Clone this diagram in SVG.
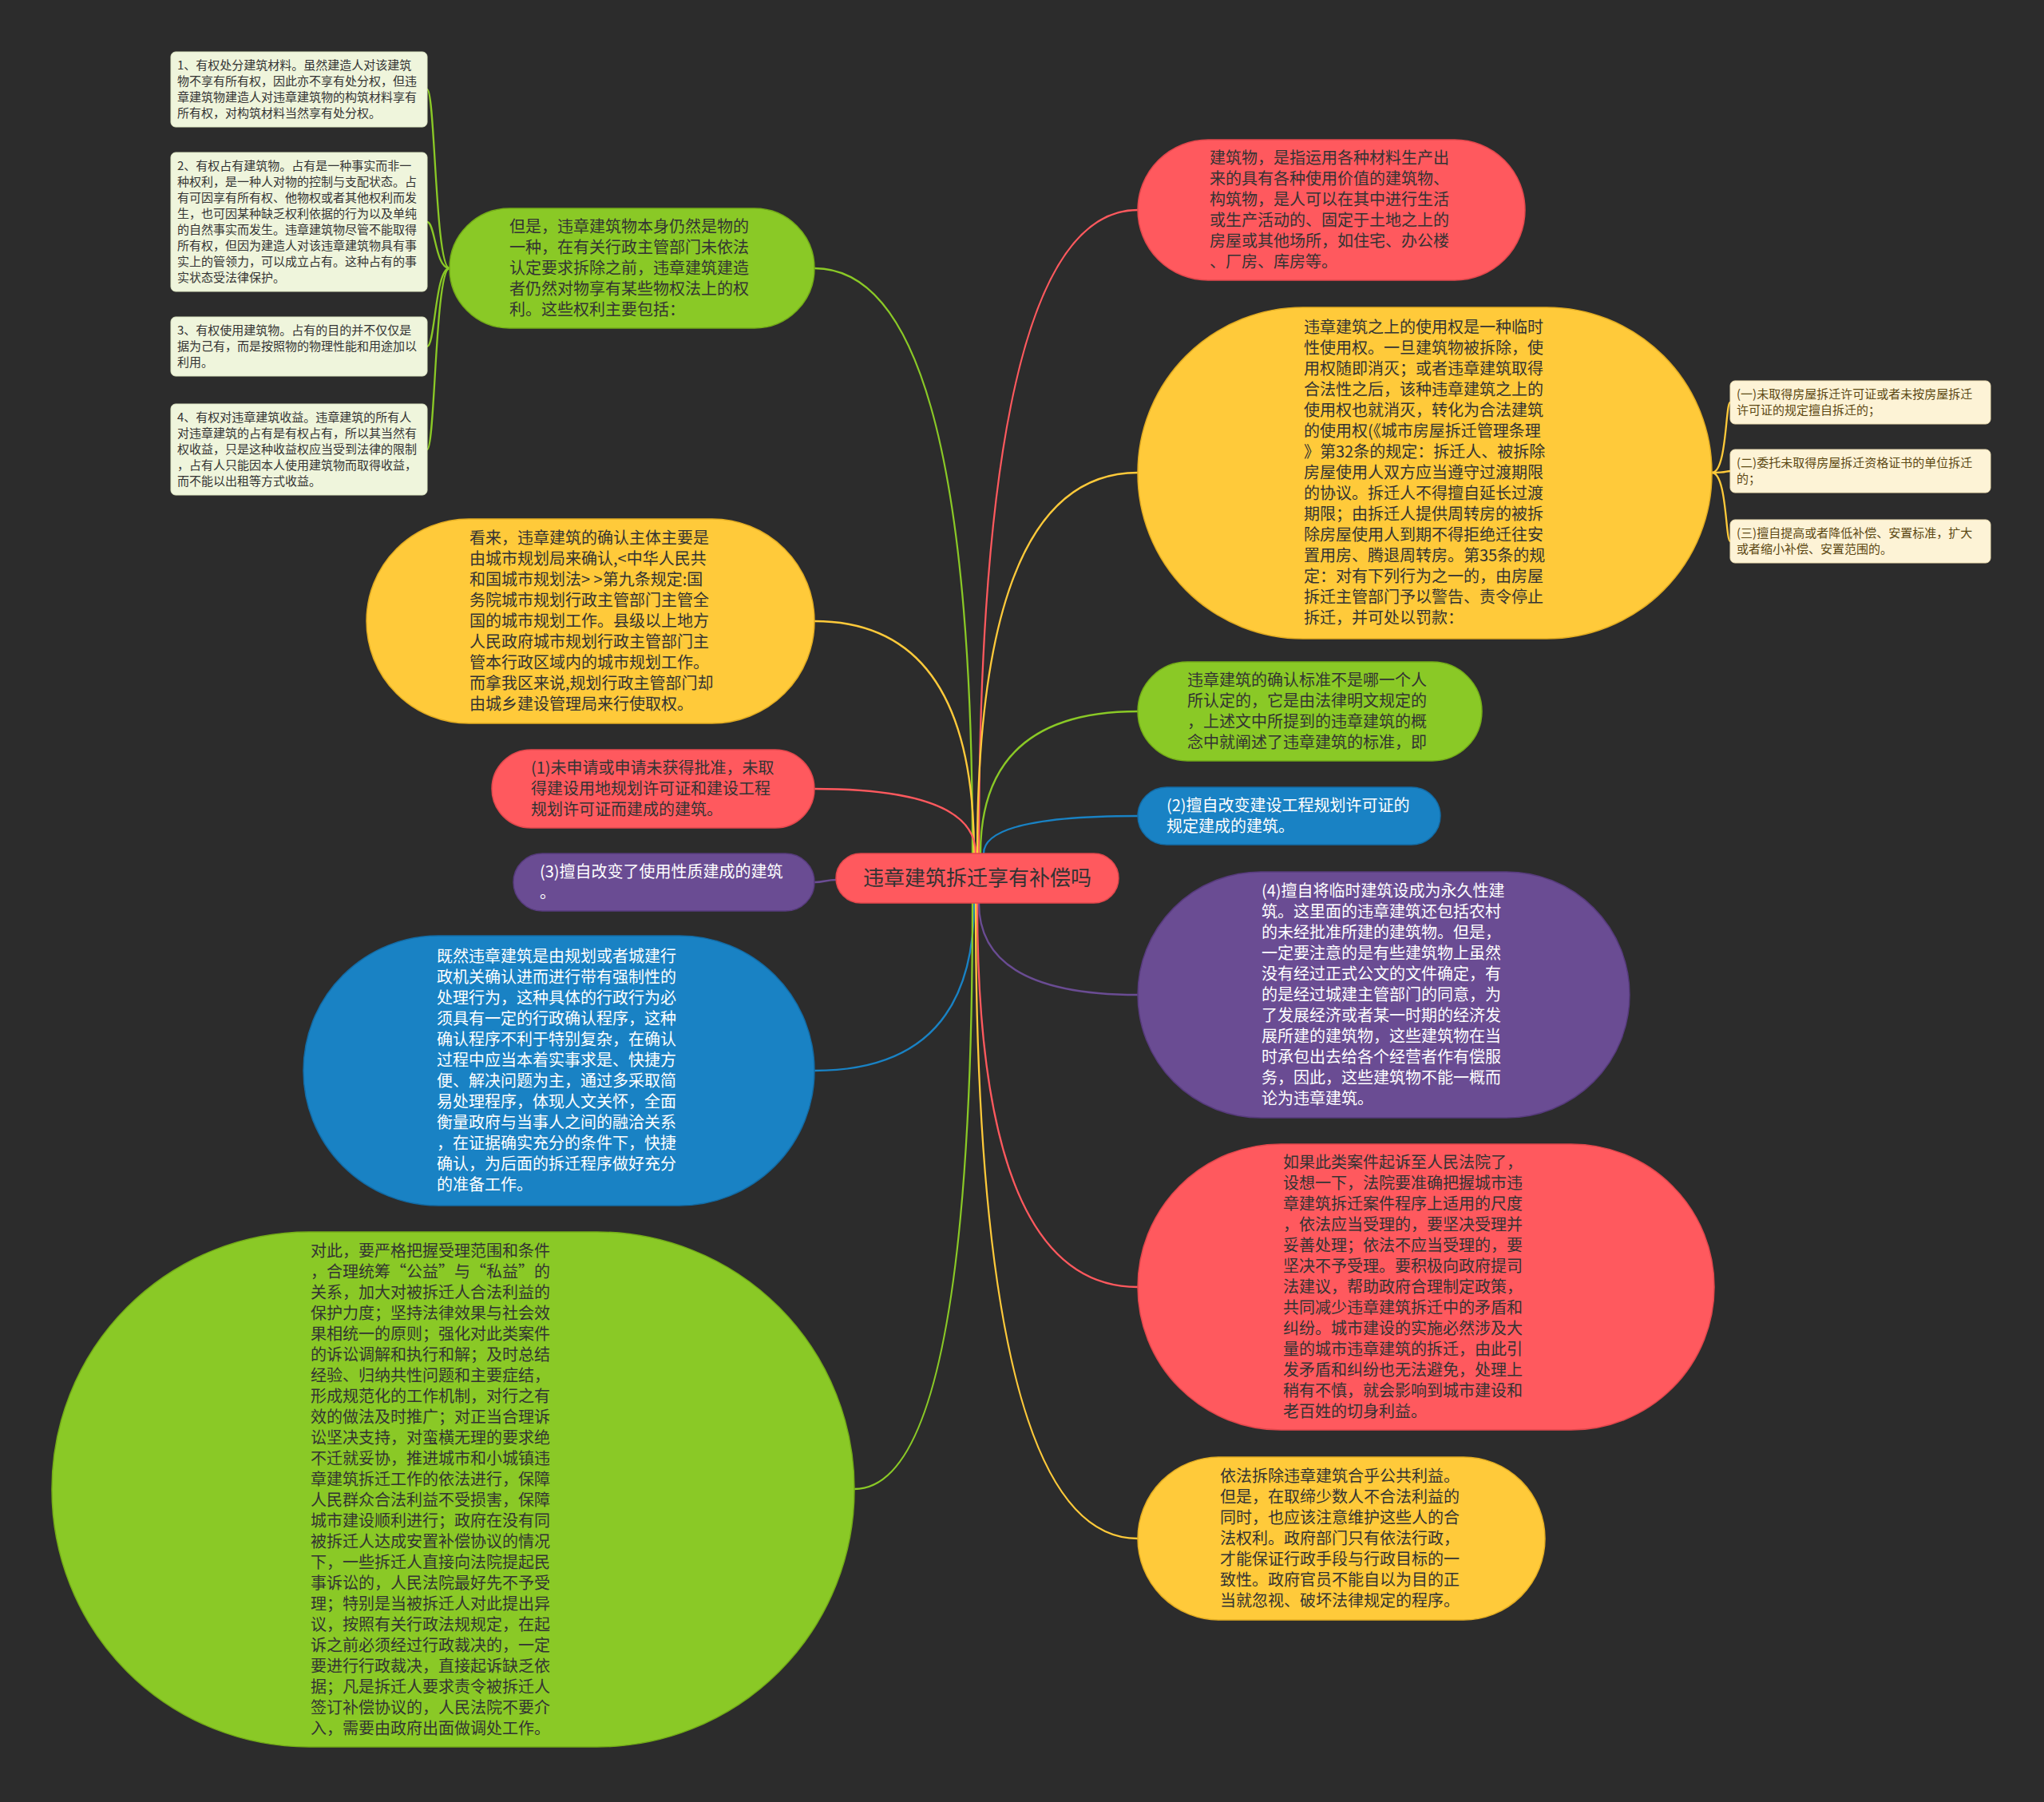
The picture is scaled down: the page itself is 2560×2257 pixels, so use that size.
<svg xmlns="http://www.w3.org/2000/svg" width="2560" height="2257" viewBox="0 0 2560 2257">
<style>
text{font-family:"Noto Sans CJK SC","Noto Sans",sans-serif;}
.t20{font-size:20px;}
.t15{font-size:15px;}
.dk{fill:#333333;}
.wh{fill:#ffffff;}
.br{fill:#5c4813;}
.red{fill:#ff595e;stroke:#e2474c;stroke-width:1.5;}
.yel{fill:#ffca3a;stroke:#e3ad22;stroke-width:1.5;}
.grn{fill:#8ac926;stroke:#74ad18;stroke-width:1.5;}
.blu{fill:#1982c4;stroke:#136ca6;stroke-width:1.5;}
.pur{fill:#6a4c93;stroke:#573b7d;stroke-width:1.5;}
.noteg{fill:#eff5dc;stroke:#dfe8c4;stroke-width:1;}
.notey{fill:#fdf3d6;stroke:#efe0b4;stroke-width:1;}
.c{fill:none;stroke-width:2.3;}
</style>
<rect x="0" y="0" width="2560" height="2257" fill="#2c2c2c"/>

<g id="connectors">
  <path class="c" stroke="#8ac926" d="M1218 1069 Q1218 336 1020 336"/>
  <path class="c" stroke="#ffca3a" d="M1220 1069 Q1220 778 1020 778"/>
  <path class="c" stroke="#ff595e" d="M1222 1069 Q1222 988 1020 988"/>
  <path class="c" stroke="#6a4c93" d="M1047 1102 C1035 1102 1032 1105 1020 1105"/>
  <path class="c" stroke="#1982c4" d="M1220 1131 Q1220 1341 1020 1341"/>
  <path class="c" stroke="#8ac926" d="M1218 1131 Q1218 1865 1070 1865"/>
  <path class="c" stroke="#ff595e" d="M1226 1069 Q1226 263 1425 263"/>
  <path class="c" stroke="#ffca3a" d="M1224 1069 Q1224 592 1425 592"/>
  <path class="c" stroke="#8ac926" d="M1228 1069 Q1228 891 1425 891"/>
  <path class="c" stroke="#1982c4" d="M1232 1069 Q1232 1022 1425 1022"/>
  <path class="c" stroke="#6a4c93" d="M1226 1131 Q1226 1246 1425 1246"/>
  <path class="c" stroke="#ff595e" d="M1224 1131 Q1224 1612 1425 1612"/>
  <path class="c" stroke="#ffca3a" d="M1222 1131 Q1222 1927 1425 1927"/>
  <path class="c" stroke="#8ac926" stroke-width="2" d="M563 336 C545 336 545 112 535 112"/>
  <path class="c" stroke="#8ac926" stroke-width="2" d="M563 336 C545 336 545 278 535 278"/>
  <path class="c" stroke="#8ac926" stroke-width="2" d="M563 336 C545 336 545 434 535 434"/>
  <path class="c" stroke="#8ac926" stroke-width="2" d="M563 336 C545 336 545 563 535 563"/>
  <path class="c" stroke="#ffca3a" stroke-width="2" d="M2144 592 C2163 592 2161 504 2167 504"/>
  <path class="c" stroke="#ffca3a" stroke-width="2" d="M2144 592 C2163 592 2161 590 2167 590"/>
  <path class="c" stroke="#ffca3a" stroke-width="2" d="M2144 592 C2163 592 2161 678 2167 678"/>
</g>

<g id="root">
  <rect class="red" x="1047" y="1069" width="354" height="62" rx="31"/>
  <text x="1224" y="1109" font-size="26" text-anchor="middle" class="dk">违章建筑拆迁享有补偿吗</text>
</g>

<g id="node-green-tl">
  <rect class="grn" x="563" y="261" width="457" height="150" rx="75"/>
  <text class="t20 dk">
    <tspan x="638" y="291">但是，违章建筑物本身仍然是物的</tspan>
    <tspan x="638" y="317">一种，在有关行政主管部门未依法</tspan>
    <tspan x="638" y="343">认定要求拆除之前，违章建筑建造</tspan>
    <tspan x="638" y="369">者仍然对物享有某些物权法上的权</tspan>
    <tspan x="638" y="395">利。这些权利主要包括：</tspan>
  </text>
</g>

<g id="note-1">
  <rect class="noteg" x="214" y="65" width="321" height="94" rx="6"/>
  <text class="t15 dk">
    <tspan x="222" y="87">1、有权处分建筑材料。虽然建造人对该建筑</tspan>
    <tspan x="222" y="107">物不享有所有权，因此亦不享有处分权，但违</tspan>
    <tspan x="222" y="127">章建筑物建造人对违章建筑物的构筑材料享有</tspan>
    <tspan x="222" y="147">所有权，对构筑材料当然享有处分权。</tspan>
  </text>
</g>

<g id="note-2">
  <rect class="noteg" x="214" y="191" width="321" height="174" rx="6"/>
  <text class="t15 dk">
    <tspan x="222" y="213">2、有权占有建筑物。占有是一种事实而非一</tspan>
    <tspan x="222" y="233">种权利，是一种人对物的控制与支配状态。占</tspan>
    <tspan x="222" y="253">有可因享有所有权、他物权或者其他权利而发</tspan>
    <tspan x="222" y="273">生，也可因某种缺乏权利依据的行为以及单纯</tspan>
    <tspan x="222" y="293">的自然事实而发生。违章建筑物尽管不能取得</tspan>
    <tspan x="222" y="313">所有权，但因为建造人对该违章建筑物具有事</tspan>
    <tspan x="222" y="333">实上的管领力，可以成立占有。这种占有的事</tspan>
    <tspan x="222" y="353">实状态受法律保护。</tspan>
  </text>
</g>

<g id="note-3">
  <rect class="noteg" x="214" y="397" width="321" height="74" rx="6"/>
  <text class="t15 dk">
    <tspan x="222" y="419">3、有权使用建筑物。占有的目的并不仅仅是</tspan>
    <tspan x="222" y="439">据为己有，而是按照物的物理性能和用途加以</tspan>
    <tspan x="222" y="459">利用。</tspan>
  </text>
</g>

<g id="note-4">
  <rect class="noteg" x="214" y="506" width="321" height="114" rx="6"/>
  <text class="t15 dk">
    <tspan x="222" y="528">4、有权对违章建筑收益。违章建筑的所有人</tspan>
    <tspan x="222" y="548">对违章建筑的占有是有权占有，所以其当然有</tspan>
    <tspan x="222" y="568">权收益，只是这种收益权应当受到法律的限制</tspan>
    <tspan x="222" y="588">，占有人只能因本人使用建筑物而取得收益，</tspan>
    <tspan x="222" y="608">而不能以出租等方式收益。</tspan>
  </text>
</g>

<g id="node-yellow-l">
  <rect class="yel" x="459" y="650" width="561" height="256" rx="128"/>
  <text class="t20 dk">
    <tspan x="588" y="681">看来，违章建筑的确认主体主要是</tspan>
    <tspan x="588" y="707">由城市规划局来确认,&lt;中华人民共</tspan>
    <tspan x="588" y="733">和国城市规划法&gt; &gt;第九条规定:国</tspan>
    <tspan x="588" y="759">务院城市规划行政主管部门主管全</tspan>
    <tspan x="588" y="785">国的城市规划工作。县级以上地方</tspan>
    <tspan x="588" y="811">人民政府城市规划行政主管部门主</tspan>
    <tspan x="588" y="837">管本行政区域内的城市规划工作。</tspan>
    <tspan x="588" y="863">而拿我区来说,规划行政主管部门却</tspan>
    <tspan x="588" y="889">由城乡建设管理局来行使取权。</tspan>
  </text>
</g>

<g id="node-red-1">
  <rect class="red" x="616" y="939" width="404" height="98" rx="49"/>
  <text class="t20 dk">
    <tspan x="665" y="969">(1)未申请或申请未获得批准，未取</tspan>
    <tspan x="665" y="995">得建设用地规划许可证和建设工程</tspan>
    <tspan x="665" y="1021">规划许可证而建成的建筑。</tspan>
  </text>
</g>

<g id="node-purple-3">
  <rect class="pur" x="643" y="1069" width="377" height="72" rx="36"/>
  <text class="t20 wh">
    <tspan x="676" y="1099">(3)擅自改变了使用性质建成的建筑</tspan>
    <tspan x="676" y="1125">。</tspan>
  </text>
</g>

<g id="node-blue-l">
  <rect class="blu" x="380" y="1172" width="640" height="338" rx="169"/>
  <text class="t20 wh">
    <tspan x="547" y="1205">既然违章建筑是由规划或者城建行</tspan>
    <tspan x="547" y="1231">政机关确认进而进行带有强制性的</tspan>
    <tspan x="547" y="1257">处理行为，这种具体的行政行为必</tspan>
    <tspan x="547" y="1283">须具有一定的行政确认程序，这种</tspan>
    <tspan x="547" y="1309">确认程序不利于特别复杂，在确认</tspan>
    <tspan x="547" y="1335">过程中应当本着实事求是、快捷方</tspan>
    <tspan x="547" y="1361">便、解决问题为主，通过多采取简</tspan>
    <tspan x="547" y="1387">易处理程序，体现人文关怀，全面</tspan>
    <tspan x="547" y="1413">衡量政府与当事人之间的融洽关系</tspan>
    <tspan x="547" y="1439">，在证据确实充分的条件下，快捷</tspan>
    <tspan x="547" y="1465">确认，为后面的拆迁程序做好充分</tspan>
    <tspan x="547" y="1491">的准备工作。</tspan>
  </text>
</g>

<g id="node-green-big">
  <rect class="grn" x="65" y="1543" width="1005" height="645" rx="322"/>
  <text class="t20 dk">
    <tspan x="389" y="1574">对此，要严格把握受理范围和条件</tspan>
    <tspan x="389" y="1600">，合理统筹“公益”与“私益”的</tspan>
    <tspan x="389" y="1626">关系，加大对被拆迁人合法利益的</tspan>
    <tspan x="389" y="1652">保护力度；坚持法律效果与社会效</tspan>
    <tspan x="389" y="1678">果相统一的原则；强化对此类案件</tspan>
    <tspan x="389" y="1704">的诉讼调解和执行和解；及时总结</tspan>
    <tspan x="389" y="1730">经验、归纳共性问题和主要症结，</tspan>
    <tspan x="389" y="1756">形成规范化的工作机制，对行之有</tspan>
    <tspan x="389" y="1782">效的做法及时推广；对正当合理诉</tspan>
    <tspan x="389" y="1808">讼坚决支持，对蛮横无理的要求绝</tspan>
    <tspan x="389" y="1834">不迁就妥协，推进城市和小城镇违</tspan>
    <tspan x="389" y="1860">章建筑拆迁工作的依法进行，保障</tspan>
    <tspan x="389" y="1886">人民群众合法利益不受损害，保障</tspan>
    <tspan x="389" y="1912">城市建设顺利进行；政府在没有同</tspan>
    <tspan x="389" y="1938">被拆迁人达成安置补偿协议的情况</tspan>
    <tspan x="389" y="1964">下，一些拆迁人直接向法院提起民</tspan>
    <tspan x="389" y="1990">事诉讼的，人民法院最好先不予受</tspan>
    <tspan x="389" y="2016">理；特别是当被拆迁人对此提出异</tspan>
    <tspan x="389" y="2042">议，按照有关行政法规规定，在起</tspan>
    <tspan x="389" y="2068">诉之前必须经过行政裁决的，一定</tspan>
    <tspan x="389" y="2094">要进行行政裁决，直接起诉缺乏依</tspan>
    <tspan x="389" y="2120">据；凡是拆迁人要求责令被拆迁人</tspan>
    <tspan x="389" y="2146">签订补偿协议的，人民法院不要介</tspan>
    <tspan x="389" y="2172">入，需要由政府出面做调处工作。</tspan>
  </text>
</g>

<g id="node-red-tr">
  <rect class="red" x="1425" y="175" width="485" height="176" rx="88"/>
  <text class="t20 dk">
    <tspan x="1515" y="205">建筑物，是指运用各种材料生产出</tspan>
    <tspan x="1515" y="231">来的具有各种使用价值的建筑物、</tspan>
    <tspan x="1515" y="257">构筑物，是人可以在其中进行生活</tspan>
    <tspan x="1515" y="283">或生产活动的、固定于土地之上的</tspan>
    <tspan x="1515" y="309">房屋或其他场所，如住宅、办公楼</tspan>
    <tspan x="1515" y="335">、厂房、库房等。</tspan>
  </text>
</g>

<g id="node-yellow-r">
  <rect class="yel" x="1425" y="385" width="719" height="415" rx="207"/>
  <text class="t20 dk">
    <tspan x="1633" y="417">违章建筑之上的使用权是一种临时</tspan>
    <tspan x="1633" y="443">性使用权。一旦建筑物被拆除，使</tspan>
    <tspan x="1633" y="469">用权随即消灭；或者违章建筑取得</tspan>
    <tspan x="1633" y="495">合法性之后，该种违章建筑之上的</tspan>
    <tspan x="1633" y="521">使用权也就消灭，转化为合法建筑</tspan>
    <tspan x="1633" y="547">的使用权(《城市房屋拆迁管理条理</tspan>
    <tspan x="1633" y="573">》第32条的规定：拆迁人、被拆除</tspan>
    <tspan x="1633" y="599">房屋使用人双方应当遵守过渡期限</tspan>
    <tspan x="1633" y="625">的协议。拆迁人不得擅自延长过渡</tspan>
    <tspan x="1633" y="651">期限；由拆迁人提供周转房的被拆</tspan>
    <tspan x="1633" y="677">除房屋使用人到期不得拒绝迁往安</tspan>
    <tspan x="1633" y="703">置用房、腾退周转房。第35条的规</tspan>
    <tspan x="1633" y="729">定：对有下列行为之一的，由房屋</tspan>
    <tspan x="1633" y="755">拆迁主管部门予以警告、责令停止</tspan>
    <tspan x="1633" y="781">拆迁，并可处以罚款：</tspan>
  </text>
</g>

<g id="note-a">
  <rect class="notey" x="2167" y="477" width="326" height="54" rx="6"/>
  <text class="t15 br">
    <tspan x="2175" y="499">(一)未取得房屋拆迁许可证或者未按房屋拆迁</tspan>
    <tspan x="2175" y="519">许可证的规定擅自拆迁的；</tspan>
  </text>
</g>

<g id="note-b">
  <rect class="notey" x="2167" y="563" width="326" height="54" rx="6"/>
  <text class="t15 br">
    <tspan x="2175" y="585">(二)委托未取得房屋拆迁资格证书的单位拆迁</tspan>
    <tspan x="2175" y="605">的；</tspan>
  </text>
</g>

<g id="note-c">
  <rect class="notey" x="2167" y="651" width="326" height="54" rx="6"/>
  <text class="t15 br">
    <tspan x="2175" y="673">(三)擅自提高或者降低补偿、安置标准，扩大</tspan>
    <tspan x="2175" y="693">或者缩小补偿、安置范围的。</tspan>
  </text>
</g>

<g id="node-green-r">
  <rect class="grn" x="1425" y="829" width="431" height="124" rx="62"/>
  <text class="t20 dk">
    <tspan x="1487" y="859">违章建筑的确认标准不是哪一个人</tspan>
    <tspan x="1487" y="885">所认定的，它是由法律明文规定的</tspan>
    <tspan x="1487" y="911">，上述文中所提到的违章建筑的概</tspan>
    <tspan x="1487" y="937">念中就阐述了违章建筑的标准，即</tspan>
  </text>
</g>

<g id="node-blue-2">
  <rect class="blu" x="1425" y="986" width="379" height="72" rx="36"/>
  <text class="t20 wh">
    <tspan x="1461" y="1016">(2)擅自改变建设工程规划许可证的</tspan>
    <tspan x="1461" y="1042">规定建成的建筑。</tspan>
  </text>
</g>

<g id="node-purple-4">
  <rect class="pur" x="1425" y="1092" width="616" height="308" rx="154"/>
  <text class="t20 wh">
    <tspan x="1580" y="1123">(4)擅自将临时建筑设成为永久性建</tspan>
    <tspan x="1580" y="1149">筑。这里面的违章建筑还包括农村</tspan>
    <tspan x="1580" y="1175">的未经批准所建的建筑物。但是，</tspan>
    <tspan x="1580" y="1201">一定要注意的是有些建筑物上虽然</tspan>
    <tspan x="1580" y="1227">没有经过正式公文的文件确定，有</tspan>
    <tspan x="1580" y="1253">的是经过城建主管部门的同意，为</tspan>
    <tspan x="1580" y="1279">了发展经济或者某一时期的经济发</tspan>
    <tspan x="1580" y="1305">展所建的建筑物，这些建筑物在当</tspan>
    <tspan x="1580" y="1331">时承包出去给各个经营者作有偿服</tspan>
    <tspan x="1580" y="1357">务，因此，这些建筑物不能一概而</tspan>
    <tspan x="1580" y="1383">论为违章建筑。</tspan>
  </text>
</g>

<g id="node-red-br">
  <rect class="red" x="1425" y="1433" width="722" height="358" rx="179"/>
  <text class="t20 dk">
    <tspan x="1607" y="1463">如果此类案件起诉至人民法院了，</tspan>
    <tspan x="1607" y="1489">设想一下，法院要准确把握城市违</tspan>
    <tspan x="1607" y="1515">章建筑拆迁案件程序上适用的尺度</tspan>
    <tspan x="1607" y="1541">，依法应当受理的，要坚决受理并</tspan>
    <tspan x="1607" y="1567">妥善处理；依法不应当受理的，要</tspan>
    <tspan x="1607" y="1593">坚决不予受理。要积极向政府提司</tspan>
    <tspan x="1607" y="1619">法建议，帮助政府合理制定政策，</tspan>
    <tspan x="1607" y="1645">共同减少违章建筑拆迁中的矛盾和</tspan>
    <tspan x="1607" y="1671">纠纷。城市建设的实施必然涉及大</tspan>
    <tspan x="1607" y="1697">量的城市违章建筑的拆迁，由此引</tspan>
    <tspan x="1607" y="1723">发矛盾和纠纷也无法避免，处理上</tspan>
    <tspan x="1607" y="1749">稍有不慎，就会影响到城市建设和</tspan>
    <tspan x="1607" y="1775">老百姓的切身利益。</tspan>
  </text>
</g>

<g id="node-yellow-br">
  <rect class="yel" x="1425" y="1825" width="510" height="204" rx="102"/>
  <text class="t20 dk">
    <tspan x="1528" y="1856">依法拆除违章建筑合乎公共利益。</tspan>
    <tspan x="1528" y="1882">但是，在取缔少数人不合法利益的</tspan>
    <tspan x="1528" y="1908">同时，也应该注意维护这些人的合</tspan>
    <tspan x="1528" y="1934">法权利。政府部门只有依法行政，</tspan>
    <tspan x="1528" y="1960">才能保证行政手段与行政目标的一</tspan>
    <tspan x="1528" y="1986">致性。政府官员不能自以为目的正</tspan>
    <tspan x="1528" y="2012">当就忽视、破坏法律规定的程序。</tspan>
  </text>
</g>
</svg>
